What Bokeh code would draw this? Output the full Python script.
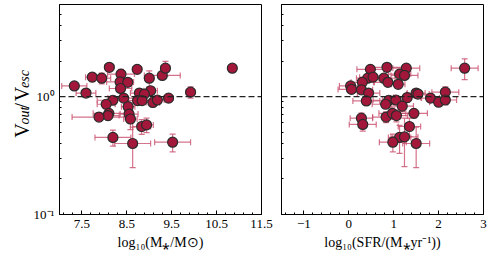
import math
import numpy as np
from bokeh.plotting import figure
from bokeh.layouts import row
from bokeh.models import (ColumnDataSource, Whisker, TeeHead, Span, FixedTicker,
                          CustomJSTickFormatter, Label)
from bokeh.embed import file_html
from bokeh.resources import INLINE

# ---- data: left panel (stellar mass) ----
mass_x = [7.33, 7.59, 7.73, 7.94, 8.11, 8.37, 8.35, 8.52, 8.36, 8.73, 9.00, 9.29, 9.36,
          9.03, 8.78, 8.89, 8.74, 8.84, 9.08, 9.18, 9.43, 9.92, 10.85, 8.43, 8.19, 8.04,
          8.53, 8.10, 8.08, 7.88, 8.55, 8.58, 8.83, 8.94, 8.19, 9.52, 8.63]
mass_y = [1.23, 1.07, 1.46, 1.43, 1.77, 1.55, 1.33, 1.32, 1.17, 1.70, 1.43, 1.51, 1.74,
          1.12, 1.07, 1.05, 0.925, 0.925, 0.89, 0.935, 0.97, 1.09, 1.74, 0.97, 0.93, 0.86,
          0.82, 0.72, 0.69, 0.67, 0.71, 0.645, 0.557, 0.575, 0.45, 0.41, 0.40]
mass_xerr = [0.28, 0.22, 0.15, 0.20, 0.10, 0.30, 0.30, 0.10, 0.25, 0.10, 0.10, 0.40, 0.10,
             0.15, 0.20, 0.15, 0.30, 0.20, 0.15, 0.15, 0.10, 0.10, 0.05, 0.35, 0.35, 0.20,
             0.15, 0.35, 0.25, 0.60, 0.20, 0.15, 0.20, 0.15, 0.40, 0.40, 0.40]
mass_yerr = [0.06, 0.05, 0.12, 0.15, 0.12, 0.15, 0.12, 0.10, 0.08, 0.10, 0.22, 0.08, 0.25,
             0.08, 0.08, 0.08, 0.08, 0.06, 0.07, 0.06, 0.08, 0.12, 0.05, 0.06, 0.07, 0.07,
             0.07, 0.06, 0.06, 0.04, 0.08, 0.12, 0.08, 0.08, 0.07, 0.07, 0.15]

# ---- data: right panel (SFR) ----
sfr_x = [0.48, 0.85, 1.28, 0.42, 0.54, 0.78, 1.13, 1.24, 0.30, 0.87, 1.10, 0.04, 0.06,
         0.28, 0.44, 1.50, 2.58, 2.15, 0.39, 0.89, 1.05, 1.30, 1.54, 1.82, 2.00, 2.15,
         0.82, 1.19, 0.28, 0.31, 0.83, 0.97, 1.06, 1.45, 1.35, 1.13, 1.24, 0.98, 1.50]
sfr_y = [1.70, 1.77, 1.74, 1.43, 1.46, 1.43, 1.55, 1.51, 1.32, 1.32, 1.27, 1.23, 1.15,
         1.14, 1.07, 1.07, 1.74, 1.09, 0.918, 0.93, 0.935, 0.98, 1.05, 0.97, 0.895, 0.935,
         0.86, 0.83, 0.655, 0.58, 0.67, 0.72, 0.69, 0.72, 0.557, 0.45, 0.455, 0.41, 0.40]
sfr_xerr = [0.30, 0.35, 0.30, 0.25, 0.30, 0.25, 0.25, 0.30, 0.25, 0.30, 0.15, 0.25, 0.30,
            0.25, 0.25, 0.20, 0.30, 0.30, 0.30, 0.35, 0.30, 0.30, 0.25, 0.20, 0.20, 0.25,
            0.30, 0.25, 0.25, 0.30, 0.30, 0.30, 0.25, 0.30, 0.25, 0.25, 0.30, 0.30, 0.30]
sfr_yerr = [0.10, 0.10, 0.08, 0.10, 0.10, 0.08, 0.08, 0.10, 0.10, 0.10, 0.08, 0.06, 0.06,
            0.06, 0.06, 0.06, 0.35, 0.12, 0.06, 0.06, 0.08, 0.06, 0.06, 0.06, 0.06, 0.08,
            0.06, 0.08, 0.07, 0.07, 0.07, 0.08, 0.08, 0.06, 0.10, 0.12, 0.20, 0.07, 0.15]

mass_ticks = [7.5, 8.5, 9.5, 10.5, 11.5]
sfr_ticks = [-1, 0, 1, 2, 3]
y_ticks = [0.1, 1]
y_minor = [0.2, 0.3, 0.4, 0.5, 0.6, 0.7, 0.8, 0.9, 2, 3, 4, 5, 6]

# y-axis label pieces: (text, is_subscript)
ylabel_parts = [("V", False), ("out", True), ("/", False), ("V", False), ("esc", True)]

FONT = "Liberation Serif"
FILL = "#a3173a"
EDGE = "#2b2b2b"
ERR = "#c9506e"

FRAME_W = 202
FRAME_H = 210
TOP = 4
BOTTOM = 38
TOTAL_H = TOP + FRAME_H + BOTTOM
LABEL_W = 30

# approximate advance widths (em) for the label glyphs
ADV = {"V": 0.722, "o": 0.5, "u": 0.5, "t": 0.278, "/": 0.35, "e": 0.444, "s": 0.389, "c": 0.444}

def make_panel(xs, ys, xerr, yerr, xr, ticks, minor, xlabel, show_ylabels,
               border_left, border_right):
    p = figure(width=border_left + FRAME_W + border_right, height=TOTAL_H,
               frame_width=FRAME_W, frame_height=FRAME_H,
               x_range=xr, y_range=(0.1, 6.03), y_axis_type="log",
               output_backend="svg", toolbar_location=None,
               min_border_left=border_left, min_border_right=border_right,
               min_border_top=TOP, min_border_bottom=BOTTOM)
    p.background_fill_color = "white"
    p.border_fill_color = "white"
    p.outline_line_color = "black"
    p.outline_line_width = 1
    p.xgrid.visible = False
    p.ygrid.visible = False

    src = ColumnDataSource(dict(
        x=xs, y=ys,
        xlo=[a - b for a, b in zip(xs, xerr)], xhi=[a + b for a, b in zip(xs, xerr)],
        ylo=[a - b for a, b in zip(ys, yerr)], yhi=[a + b for a, b in zip(ys, yerr)]))

    for dim, base, lo, hi in (("width", "y", "xlo", "xhi"), ("height", "x", "ylo", "yhi")):
        w = Whisker(source=src, base=base, lower=lo, upper=hi, dimension=dim,
                    line_color=ERR, line_alpha=0.8, line_width=1.2, level="underlay",
                    upper_head=TeeHead(size=6, line_color=ERR, line_alpha=0.8, line_width=1.2),
                    lower_head=TeeHead(size=6, line_color=ERR, line_alpha=0.8, line_width=1.2))
        p.add_layout(w)

    p.add_layout(Span(location=1.0, dimension="width", line_color="#222222",
                      line_dash="6 3", line_width=1.3))

    p.scatter("x", "y", source=src, size=10, fill_color=FILL, line_color=EDGE,
              line_width=1.2)

    for ax in (p.xaxis[0], p.yaxis[0]):
        ax.axis_line_color = "black"
        ax.major_tick_line_color = "black"
        ax.minor_tick_line_color = "black"
        ax.major_tick_in = 4
        ax.major_tick_out = 0
        ax.minor_tick_in = 2
        ax.minor_tick_out = 0
        ax.major_label_text_font = FONT
        ax.major_label_text_font_size = "13px"
        ax.major_label_text_color = "black"
        ax.axis_label_text_font = FONT
        ax.axis_label_text_font_style = "normal"
        ax.axis_label_text_font_size = "14px"
        ax.axis_label_text_color = "black"

    p.xaxis.ticker = FixedTicker(ticks=ticks, minor_ticks=minor)
    p.xaxis.formatter = CustomJSTickFormatter(
        code="return tick < 0 ? '\\u2212' + Math.abs(tick) : tick.toString();")
    p.xaxis.axis_label = xlabel
    p.xaxis.axis_label_standoff = 4
    p.xaxis.major_label_standoff = 5

    p.yaxis.ticker = FixedTicker(ticks=y_ticks, minor_ticks=y_minor)
    if show_ylabels:
        p.yaxis.formatter = CustomJSTickFormatter(
            code="return tick < 0.5 ? '10\\u207b\\u00b9' : '10\\u2070';")
        p.yaxis.major_label_standoff = 5
    else:
        p.yaxis.formatter = CustomJSTickFormatter(code="return '';")
        p.yaxis.major_label_standoff = 0
    return p

# narrow figure that carries the composed y-axis label
lab = figure(width=LABEL_W, height=TOTAL_H, x_range=(0, LABEL_W), y_range=(0, TOTAL_H),
             output_backend="svg", toolbar_location=None,
             min_border_left=0, min_border_right=0, min_border_top=0, min_border_bottom=0)
lab.axis.visible = False
lab.xgrid.visible = False
lab.ygrid.visible = False
lab.outline_line_color = None
lab.background_fill_color = "white"
lab.border_fill_color = "white"
main_fs, sub_fs = 20, 14
pos = BOTTOM + 54.0
for txt, sub in ylabel_parts:
    fs = sub_fs if sub else main_fs
    lab.add_layout(Label(
        x=24 if sub else 21, y=pos, text=txt, angle=math.pi / 2, text_align="left",
        text_baseline="alphabetic", text_font=FONT, text_font_size=f"{fs}px",
        text_font_style="italic" if sub else "normal", text_color="black"))
    pos += sum(ADV.get(ch, 0.5) for ch in txt) * fs + 1.5

mass_minor = [round(v, 2) for v in np.arange(7.1, 11.5, 0.2)]
sfr_minor = [round(v, 2) for v in np.arange(-1.4, 3.0, 0.2)]

p1 = make_panel(mass_x, mass_y, mass_xerr, mass_yerr, (7.0, 11.5), mass_ticks, mass_minor,
                "log₁₀(M⁎/M⊙)", True, 58 - LABEL_W, 12)
p2 = make_panel(sfr_x, sfr_y, sfr_xerr, sfr_yerr, (-1.5, 3.0), sfr_ticks, sfr_minor,
                "log₁₀(SFR/(M⁎yr⁻¹))", False, 8, 6)

layout = row(lab, p1, p2, spacing=0)
open("out.html", "w").write(file_html(layout, INLINE))
